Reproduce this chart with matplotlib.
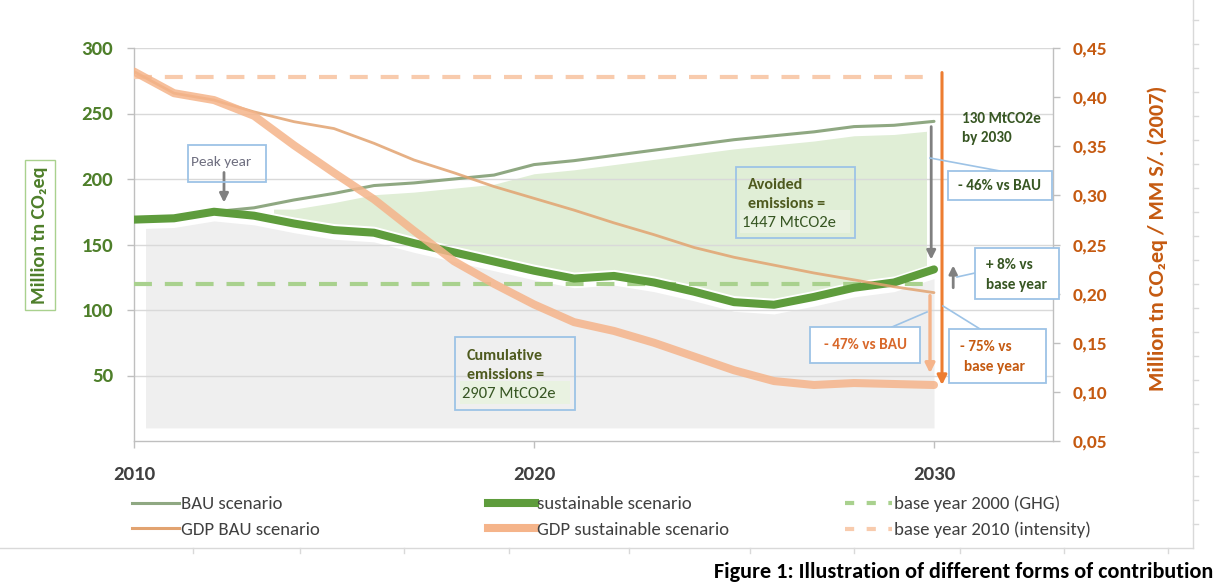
import numpy as np
import matplotlib
matplotlib.use("Agg")
import matplotlib.pyplot as plt
from matplotlib import font_manager as fm
from matplotlib.patches import Rectangle
from matplotlib.lines import Line2D
from matplotlib.ticker import FuncFormatter, FixedLocator

# ---------------- data ----------------
years = list(range(2010, 2031))
bau = [169, 170, 175, 178, 184, 189, 195, 197, 200, 203, 211, 214, 218, 222, 226, 230, 233, 236, 240, 241, 244]
sust = [169, 170, 175, 172, 166, 161, 159, 151, 144, 137, 130, 124, 126, 121, 114, 106, 104, 110, 117, 121, 131]
gdp_bau = [0.426, 0.404, 0.397, 0.385, 0.375, 0.368, 0.353, 0.336, 0.323, 0.309, 0.297,
           0.285, 0.272, 0.260, 0.247, 0.237, 0.229, 0.221, 0.214, 0.207, 0.201]
gdp_sust = [0.426, 0.404, 0.397, 0.381, 0.351, 0.323, 0.296, 0.264, 0.233, 0.210, 0.189,
            0.171, 0.162, 0.150, 0.136, 0.122, 0.111, 0.107, 0.109, 0.108, 0.107]
base_ghg = 120
base_int = 0.42
x_ticks = [2010, 2020, 2030]
left_ticks = [50, 100, 150, 200, 250, 300]
right_ticks = [0.05, 0.10, 0.15, 0.20, 0.25, 0.30, 0.35, 0.40, 0.45]
series_labels = ["BAU scenario", "GDP BAU scenario", "sustainable scenario",
                 "GDP sustainable scenario", "base year 2000 (GHG)", "base year 2010 (intensity)"]

# ---------------- fonts ----------------
names = {f.name for f in fm.fontManager.ttflist}
base_font = "Carlito" if "Carlito" in names else "Lato"
plt.rcParams["font.family"] = [base_font, "DejaVu Sans"]

W, H = 1223, 584
fig = plt.figure(figsize=(W / 100, H / 100), dpi=100)
fig.patch.set_facecolor("white")

L, R, T, B = 134, 1053, 48, 441
ax = fig.add_axes([L / W, 1 - B / H, (R - L) / W, (B - T) / H])
ax2 = ax.twinx()

yrs = np.array(years)
bau_a = np.array(bau, float)
sust_a = np.array(sust, float)

C_BAU = "#8fa882"
C_SUST = "#5e9c3c"
C_GBAU = "#e2a370"
C_GSUST = "#f5b48a"
C_B2000 = "#a9d18e"
C_B2010 = "#f8cbad"
C_GRAY = "#efefef"
C_GREEN = "#e0eed6"
C_BOX = "#9dc3e6"

ax.set_xlim(2010, 2010 + (R - L) / 40)
ax.set_ylim(0, 300)
ax2.set_ylim(0.05, 0.45)

# ---------------- shaded areas ----------------
gray = ax.fill_between(yrs, 10, sust_a - 7, color=C_GRAY, lw=0, zorder=1)
clip1 = Rectangle((2010.3, 0), 19.9, 300, transform=ax.transData)
gray.set_clip_path(clip1)

upper = np.maximum(bau_a - 7, sust_a + 5)
green = ax.fill_between(yrs, sust_a + 5, upper, color=C_GREEN, lw=0, zorder=1)
clip2 = Rectangle((2013.5, 0), 16.3, 300, transform=ax.transData)
green.set_clip_path(clip2)

# ---------------- lines ----------------
ax.plot([years[0], years[-1]], [base_ghg, base_ghg], color=C_B2000, lw=3, dashes=(4.3, 3.1), zorder=3)
ax.plot(yrs, bau_a, color=C_BAU, lw=2.2, zorder=4, solid_capstyle="round", solid_joinstyle="round")
ax.plot(yrs, sust_a, color=C_SUST, lw=5.8, zorder=5, solid_capstyle="round", solid_joinstyle="round")

ax2.plot([years[0], years[-1]], [base_int, base_int], color=C_B2010, lw=3, dashes=(4.3, 3.1), zorder=3)
ax2.plot(yrs, gdp_bau, color=C_GBAU, lw=2.0, alpha=0.85, zorder=4, solid_capstyle="round",
         solid_joinstyle="round")
ax2.plot(yrs, gdp_sust, color=C_GSUST, lw=5.8, alpha=0.85, zorder=5, solid_capstyle="round",
         solid_joinstyle="round")

# ---------------- axes styling ----------------
ax.yaxis.set_major_locator(FixedLocator(left_ticks))
ax.xaxis.set_major_locator(FixedLocator(x_ticks))
ax2.yaxis.set_major_locator(FixedLocator(right_ticks))
ax2.yaxis.set_major_formatter(FuncFormatter(lambda v, p: f"{v:.2f}".replace(".", ",")))
ax.grid(axis="y", color="#d9d9d9", lw=1.0)
ax.set_axisbelow("line")
for a in (ax, ax2):
    a.spines["top"].set_visible(False)
    for s in ("left", "right", "bottom"):
        a.spines[s].set_color("#bfbfbf")
        a.spines[s].set_linewidth(1.0)
ax.spines["right"].set_visible(False)
ax2.spines["left"].set_visible(False)
ax2.spines["bottom"].set_visible(False)

ax.tick_params(axis="y", colors="#bfbfbf", length=5, width=1, pad=10, labelsize=15,
               labelcolor="#4e7f2a")
ax.tick_params(axis="x", colors="#bfbfbf", length=5, width=1, pad=13, labelsize=15,
               labelcolor="#404040")
ax2.tick_params(axis="y", colors="#bfbfbf", length=5, width=1, pad=9, labelsize=14,
                labelcolor="#c55a11")
for lab in ax.get_yticklabels() + ax.get_xticklabels() + ax2.get_yticklabels():
    lab.set_fontweight("bold")

# ---------------- helpers ----------------
def fx(x):
    return x / W

def fy(y):
    return 1 - y / H

def box(x0, y0, x1, y1, fc="none", ec=C_BOX, lw=1.3):
    fig.add_artist(Rectangle((fx(x0), fy(y1)), (x1 - x0) / W, (y1 - y0) / H,
                             transform=fig.transFigure, fc=fc, ec=ec, lw=lw, zorder=6))

def txt(x, y, s, **kw):
    kw.setdefault("va", "center")
    kw.setdefault("ha", "left")
    kw.setdefault("zorder", 7)
    fig.text(fx(x), fy(y), s, **kw)

def link(x0, y0, x1, y1):
    fig.add_artist(Line2D([fx(x0), fx(x1)], [fy(y0), fy(y1)], transform=fig.transFigure,
                          color=C_BOX, lw=1.2, zorder=6))

def arrow(a, x, y0, y1, color, lw, ms=14):
    a.annotate("", xy=(x, y1), xytext=(x, y0),
               arrowprops=dict(arrowstyle="-|>", color=color, lw=lw, mutation_scale=ms,
                               shrinkA=0, shrinkB=0), zorder=8, annotation_clip=False)

# ---------------- arrows ----------------
peak_i = int(np.argmax(sust_a[:6]))
arrow(ax, 2012.25, sust_a[peak_i] + 30, sust_a[peak_i] + 7, "#808080", 2.0, 13)
arrow(ax, 2029.93, bau_a[-1] - 4, sust_a[-1] + 7.5, "#808080", 2.0, 13)
arrow(ax, 2030.48, base_ghg - 3, sust_a[-1] + 3, "#808080", 2.0, 12)
arrow(ax2, 2029.9, gdp_bau[-1] - 0.003, gdp_sust[-1] + 0.012, C_GSUST, 2.4, 14)
arrow(ax2, 2030.2, base_int + 0.005, gdp_sust[-1], "#ed7d31", 2.2, 14)

# ---------------- boxes & annotations ----------------
DG = "#375623"
OR = "#c55a11"
FS = 11
# Peak year
box(188, 145, 266, 182)
txt(191, 162, "Peak year", fontsize=11, color="#6f6f80")
# 130 MtCO2e
txt(962, 119, "130 MtCO2e", fontsize=FS, fontweight="bold", color=DG)
txt(962, 138, "by 2030", fontsize=FS, fontweight="bold", color=DG)
# -46% vs BAU
link(930, 158, 1000, 171)
box(948, 171, 1052, 200, fc="white")
txt(1000, 186, "- 46% vs BAU", fontsize=FS, fontweight="bold", color=DG, ha="center")
# +8%
link(957, 277, 975, 273)
box(975, 248, 1059, 299, fc="white")
txt(986, 265, "+ 8% vs", fontsize=FS, fontweight="bold", color=DG)
txt(986, 285, "base year", fontsize=FS, fontweight="bold", color=DG)
# -75%
link(943, 306, 980, 329)
box(949, 329, 1046, 383, fc="white")
txt(960, 347, "- 75% vs", fontsize=FS, fontweight="bold", color=OR)
txt(964, 367, "base year", fontsize=FS, fontweight="bold", color=OR)
# -47%
link(927, 312, 892, 327)
box(810, 327, 920, 363, fc="white")
txt(865, 345, "- 47% vs BAU", fontsize=FS, fontweight="bold", color="#d8682a", ha="center")
# Avoided emissions
box(736, 167, 855, 238)
fig.add_artist(Rectangle((fx(740), fy(233)), 110 / W, 23 / H, transform=fig.transFigure,
                         fc="#e9f2e1", ec="none", zorder=6))
txt(748, 185, "Avoided", fontsize=11.5, fontweight="bold", color="#4e5a1e")
txt(748, 204, "emissions =", fontsize=11.5, fontweight="bold", color="#4e5a1e")
txt(742, 223, "1447 MtCO2e", fontsize=12, color=DG)
# Cumulative
box(455, 337, 575, 410)
fig.add_artist(Rectangle((fx(460), fy(404)), 110 / W, 23 / H, transform=fig.transFigure,
                         fc="#e9f2e1", ec="none", zorder=6))
txt(467, 356, "Cumulative", fontsize=11.5, fontweight="bold", color="#4e5a1e")
txt(467, 375, "emissions =", fontsize=11.5, fontweight="bold", color="#4e5a1e")
txt(462, 394, "2907 MtCO2e", fontsize=12, color=DG)

# ---------------- axis titles ----------------
fig.text(fx(40), fy(235), "Million tn CO₂eq", rotation=90, ha="center", va="center",
         fontsize=14.5, fontweight="bold", color="#4e7f2a",
         bbox=dict(boxstyle="square,pad=0.3", fc="none", ec="#a9d18e", lw=1))
fig.text(fx(1158), fy(238), "Million tn CO₂eq / MM S/. (2007)", rotation=90, ha="center",
         va="center", fontsize=16, fontweight="bold", color=OR)

# ---------------- legend ----------------
h_bau = Line2D([], [], color=C_BAU, lw=2.2)
h_gbau = Line2D([], [], color=C_GBAU, lw=2.2)
h_sust = Line2D([], [], color=C_SUST, lw=5.8)
h_gsust = Line2D([], [], color=C_GSUST, lw=5.8)
h_b2000 = Line2D([], [], color=C_B2000, lw=3, dashes=(2.2, 3.0))
h_b2010 = Line2D([], [], color=C_B2010, lw=3, dashes=(2.2, 3.0))
groups = [((h_bau, h_gbau), series_labels[0:2], 132),
          ((h_sust, h_gsust), series_labels[2:4], 488),
          ((h_b2000, h_b2010), series_labels[4:6], 845)]
for hs, labs, x0 in groups:
    fig.legend(list(hs), list(labs), loc="center left", bbox_to_anchor=(fx(x0), fy(517)),
               frameon=False, fontsize=13.5, handlelength=2.5, handletextpad=0.12,
               borderpad=0, borderaxespad=0, labelspacing=0.5, labelcolor="#404040")

# ---------------- outer frame (page) ----------------
fig.add_artist(Line2D([fx(0), fx(1193)], [fy(548), fy(548)], transform=fig.transFigure,
                      color="#d9d9d9", lw=1))
fig.add_artist(Line2D([fx(1193), fx(1193)], [fy(0), fy(548)], transform=fig.transFigure,
                      color="#d9d9d9", lw=1))
for tx in [193, 300, 404, 509, 629, 750, 854, 960, 1064, 1168]:
    fig.add_artist(Line2D([fx(tx), fx(tx)], [fy(548), fy(553)], transform=fig.transFigure,
                          color="#d9d9d9", lw=1))
for ty in range(20, 548, 24):
    fig.add_artist(Line2D([fx(1193), fx(1198)], [fy(ty), fy(ty)], transform=fig.transFigure,
                          color="#d9d9d9", lw=1))

# ---------------- caption ----------------
fig.text(fx(1213), fy(572), "Figure 1: Illustration of different forms of contribution",
         ha="right", va="center", fontsize=16, fontweight="bold", color="black")

fig.savefig("out.png", dpi=100, facecolor="white")
